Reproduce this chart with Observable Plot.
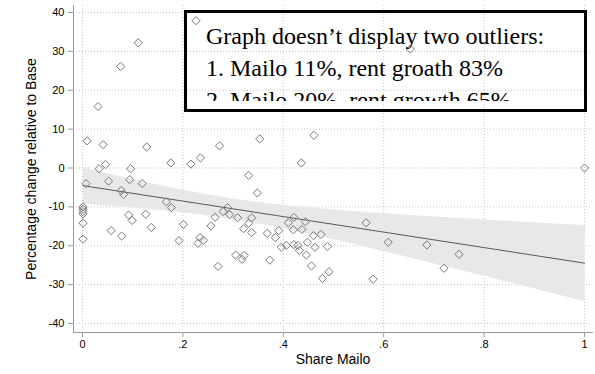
<!DOCTYPE html>
<html>
<head>
<meta charset="utf-8">
<script src="https://cdn.jsdelivr.net/npm/d3@7"></script>
<script src="https://cdn.jsdelivr.net/npm/@observablehq/plot@0.6"></script>
<style>
  body { margin: 0; background: #fff; }
  #chart { position: relative; width: 595px; height: 374px; }
  .note {
    position: absolute; left: 184px; top: 10px; width: 403px; height: 102px;
    border: 3px solid #000; box-sizing: border-box;
  }
  .note-text {
    position: absolute; left: 19px; top: 7px; right: 0; height: 81px; overflow: hidden;
    font-family: "Liberation Serif", "Times New Roman", serif; font-size: 24px; line-height: 32px;
    color: #000; white-space: nowrap;
  }
</style>
</head>
<body>
<div id="chart"></div>
<script>
// Share of Mailo in each area (x) and percentage rent change relative to Base (y)
const shareMailo = [
  0.009, 0.007, 0.001, 0.001, 0.001, 0.001, 0.001, 0.001, 0.031, 0.041,
  0.033, 0.046, 0.052, 0.057, 0.076, 0.077, 0.082, 0.078, 0.096, 0.094,
  0.092, 0.099, 0.111, 0.119, 0.128, 0.126, 0.137, 0.167, 0.177, 0.176,
  0.192, 0.201, 0.216, 0.226, 0.235, 0.234, 0.241, 0.230, 0.264, 0.256,
  0.273, 0.280, 0.289, 0.293, 0.270, 0.305, 0.309, 0.318, 0.322, 0.321,
  0.331, 0.331, 0.337, 0.337, 0.348, 0.353, 0.368, 0.373, 0.384, 0.391,
  0.396, 0.406, 0.410, 0.421, 0.420, 0.421, 0.429, 0.432, 0.436, 0.437,
  0.444, 0.446, 0.448, 0.456, 0.460, 0.461, 0.463, 0.475, 0.478, 0.488,
  0.491, 0.565, 0.579, 0.609, 0.653, 0.686, 0.720, 0.750, 1.000
];
const pctChange = [
  7.0, -4.0, -10.0, -10.6, -11.2, -11.8, -14.2, -18.3, 15.8, 6.0,
  -0.2, 0.9, -3.4, -16.1, 26.1, -5.8, -6.8, -17.5, -0.2, -3.0,
  -12.1, -13.5, 32.2, -4.0, 5.4, -11.9, -15.3, -8.7, -10.2, 1.3,
  -18.7, -14.5, 1.0, 37.9, 2.6, -17.9, -18.6, -19.4, -12.7, -14.9,
  5.7, -11.2, -10.2, -12.0, -25.3, -22.4, -12.8, -23.5, -22.5, -15.6,
  -14.2, -1.9, -12.8, -16.6, -6.4, 7.5, -16.8, -23.7, -17.9, -16.1,
  -20.4, -19.9, -14.1, -12.7, -15.9, -19.7, -19.9, -21.2, 1.3, -15.8,
  -13.8, -22.4, -19.1, -25.2, -17.4, 8.4, -20.4, -17.1, -28.4, -20.2,
  -26.7, -14.1, -28.6, -19.1, 30.6, -19.8, -25.8, -22.2, 0.0
];

const xTicks = [0, 0.2, 0.4, 0.6, 0.8, 1];
const xTickLabels = ["0", ".2", ".4", ".6", ".8", "1"];
const yTicks = [-40, -30, -20, -10, 0, 10, 20, 30, 40];
const yTickLabels = ["-40", "-30", "-20", "-10", "0", "10", "20", "30", "40"];

const xTitle = "Share Mailo";
const yTitle = "Percentage change relative to Base";
const noteLines = [
  "Graph doesn’t display two outliers:",
  "1. Mailo 11%, rent groath 83%",
  "2. Mailo 20%, rent growth 65%"
];

const points = shareMailo.map((x, i) => ({x, y: pctChange[i]}));

const axisGray = "#999999";
const gridStyle = {stroke: "#c4c4c4", strokeOpacity: 1, strokeDasharray: "1,2"};

const plot = Plot.plot({
  width: 595,
  height: 374,
  marginLeft: 73,
  marginRight: 3,
  marginTop: 5,
  marginBottom: 42,
  style: {fontFamily: "'Liberation Sans', Arial, sans-serif", fontSize: "11px", color: "#000", background: "#fff"},
  x: {domain: [0, 1], insetLeft: 9, insetRight: 8},
  y: {domain: [-40, 40], insetTop: 7, insetBottom: 9},
  marks: [
    Plot.gridY(yTicks, gridStyle),
    Plot.gridX(xTicks, gridStyle),
    // fitted line with 95% confidence band
    Plot.linearRegressionY(points, {
      x: "x", y: "y", ci: 0.95,
      stroke: "#5a5a5a", strokeWidth: 1,
      fill: "#e8e8e8", fillOpacity: 1
    }),
    Plot.dot(points, {x: "x", y: "y", symbol: "diamond2", r: 3.7, stroke: "#787878", strokeWidth: 1}),
    Plot.axisY(yTicks, {
      tickSize: 5, tickPadding: 4, stroke: axisGray, fill: "#000", label: null,
      tickFormat: d => yTickLabels[yTicks.indexOf(d)]
    }),
    Plot.axisX(xTicks, {
      tickSize: 5, tickPadding: 3, stroke: axisGray, fill: "#000", label: null,
      tickFormat: d => xTickLabels[xTicks.indexOf(d)]
    }),
    Plot.frame({anchor: "left", stroke: axisGray}),
    Plot.frame({anchor: "bottom", stroke: axisGray}),
    Plot.text([xTitle], {frameAnchor: "bottom", dy: 31, fontSize: 14, fill: "#000"}),
    Plot.text([yTitle], {frameAnchor: "left", textAnchor: "middle", dx: -42, rotate: -90, fontSize: 14, fill: "#000"})
  ]
});

const chart = document.getElementById("chart");
chart.append(plot);

// annotation box over the upper part of the plot
const note = document.createElement("div");
note.className = "note";
const noteText = document.createElement("div");
noteText.className = "note-text";
for (const line of noteLines) {
  const div = document.createElement("div");
  div.textContent = line;
  noteText.append(div);
}
note.append(noteText);
chart.append(note);
</script>
</body>
</html>
